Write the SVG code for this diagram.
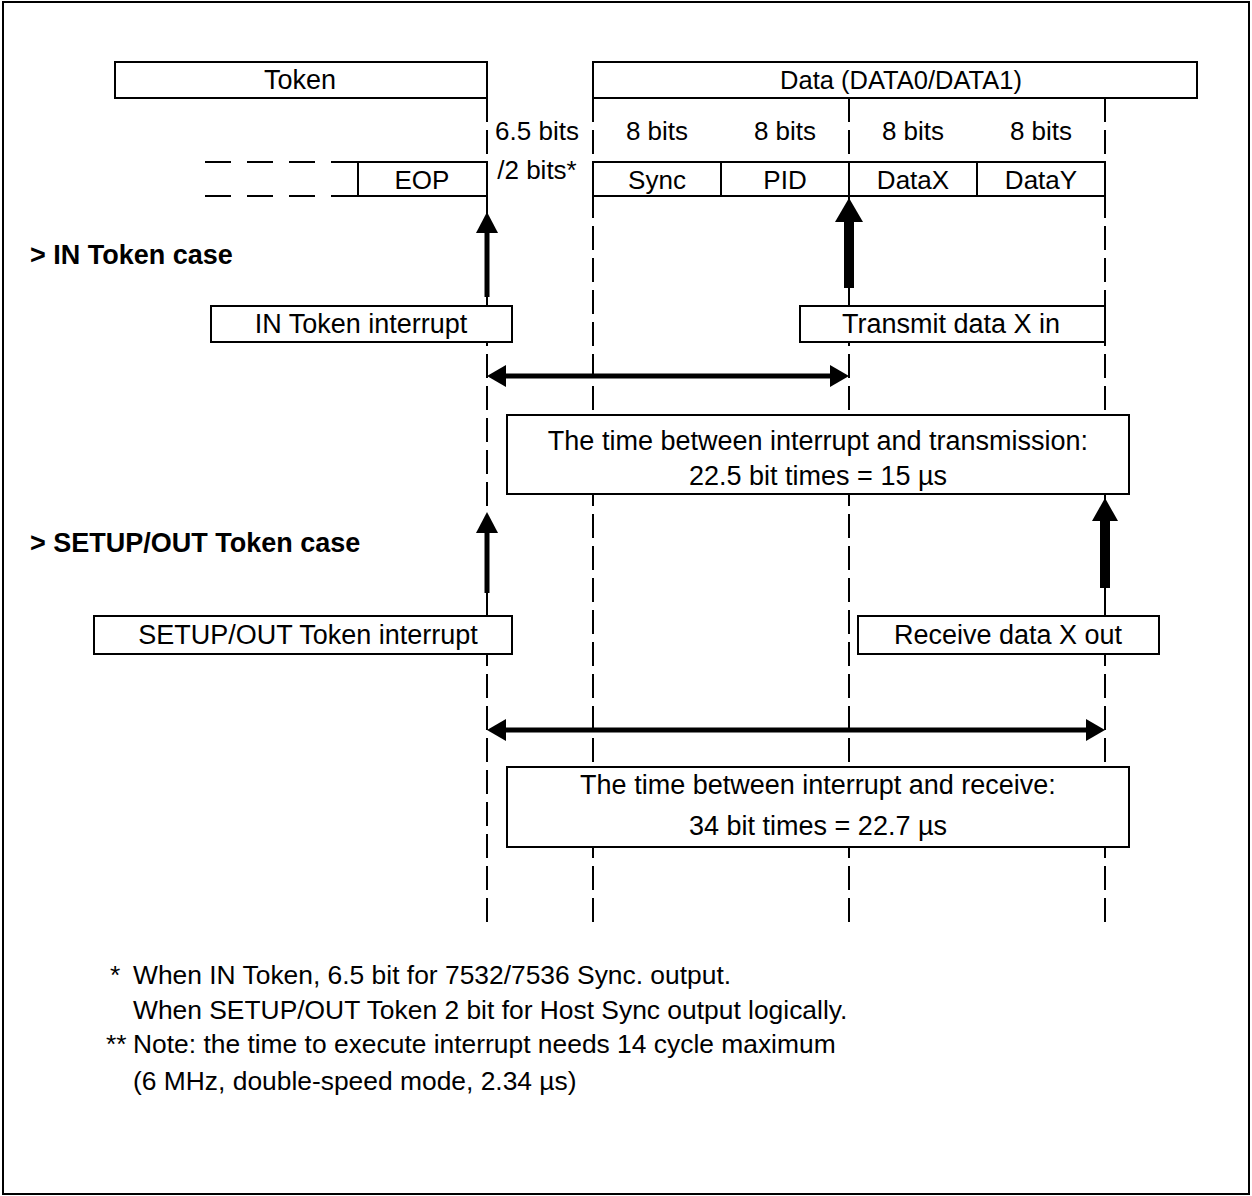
<svg xmlns="http://www.w3.org/2000/svg" width="1252" height="1196" viewBox="0 0 1252 1196">
<style>
  .box { fill: #fff; stroke: #000; stroke-width: 2; }
  .t { font-family: "Liberation Sans", Arial, sans-serif; font-size: 27px; fill: #000; }
  .s { font-size: 26px; }
  .d { font-size: 25.5px; }
  .n { font-size: 26.4px; }
  .c { text-anchor: middle; }
  .b { font-weight: bold; }
  .dash { stroke: #000; stroke-width: 2; stroke-dasharray: 24 8; fill: none; }
  .hdash { stroke: #000; stroke-width: 2; stroke-dasharray: 26 16; fill: none; }
  .thin { stroke: #000; stroke-width: 2; fill: none; }
  .head { fill: #000; stroke: none; }
</style>
<rect x="3" y="2" width="1246" height="1192" fill="#fff" stroke="#000" stroke-width="2"/>

<g id="guides">
  <line class="dash" x1="487" y1="98" x2="487" y2="922"/>
  <line class="dash" x1="593" y1="98" x2="593" y2="922"/>
  <line class="dash" x1="849" y1="98" x2="849" y2="922"/>
  <line class="dash" x1="1105" y1="98" x2="1105" y2="922"/>
  <line class="hdash" x1="205" y1="162" x2="358" y2="162"/>
  <line class="hdash" x1="205" y1="196" x2="358" y2="196"/>
</g>

<g id="token">
  <rect class="box" x="115" y="62" width="372" height="36"/>
  <text class="t c" x="300" y="89">Token</text>
</g>
<g id="data">
  <rect class="box" x="593" y="62" width="604" height="36"/>
  <text class="t d c" x="901" y="89">Data (DATA0/DATA1)</text>
</g>
<g id="gap-label">
  <text class="t s c" x="537" y="140">6.5 bits</text>
  <text class="t s c" x="537" y="179">/2 bits*</text>
</g>
<g id="bit-labels">
  <text class="t s c" x="657" y="140">8 bits</text>
  <text class="t s c" x="785" y="140">8 bits</text>
  <text class="t s c" x="913" y="140">8 bits</text>
  <text class="t s c" x="1041" y="140">8 bits</text>
</g>
<g id="eop">
  <rect class="box" x="358" y="162" width="129" height="34"/>
  <text class="t s c" x="422" y="189">EOP</text>
</g>
<g id="sync">
  <rect class="box" x="593" y="162" width="128" height="34"/>
  <text class="t s c" x="657" y="189">Sync</text>
</g>
<g id="pid">
  <rect class="box" x="721" y="162" width="128" height="34"/>
  <text class="t s c" x="785" y="189">PID</text>
</g>
<g id="datax">
  <rect class="box" x="849" y="162" width="128" height="34"/>
  <text class="t s c" x="913" y="189">DataX</text>
</g>
<g id="datay">
  <rect class="box" x="977" y="162" width="128" height="34"/>
  <text class="t s c" x="1041" y="189">DataY</text>
</g>

<g id="in-case-label">
  <text class="t b" x="30" y="264">&gt; IN Token case</text>
</g>
<g id="in-token-interrupt">
  <rect class="box" x="211" y="306" width="301" height="36"/>
  <text class="t c" x="361" y="333">IN Token interrupt</text>
</g>
<g id="transmit">
  <rect class="box" x="800" y="306" width="305" height="36"/>
  <text class="t c" x="951" y="333">Transmit data X in</text>
</g>
<g id="time-box-1">
  <rect class="box" x="507" y="415" width="622" height="79"/>
  <text class="t c" x="818" y="450">The time between interrupt and transmission:</text>
  <text class="t c" x="818" y="485">22.5 bit times = 15 µs</text>
</g>

<g id="setup-case-label">
  <text class="t b" x="30" y="552">&gt; SETUP/OUT Token case</text>
</g>
<g id="setup-interrupt">
  <rect class="box" x="94" y="616" width="418" height="38"/>
  <text class="t c" x="308" y="644">SETUP/OUT Token interrupt</text>
</g>
<g id="receive">
  <rect class="box" x="858" y="616" width="301" height="38"/>
  <text class="t c" x="1008" y="644">Receive data X out</text>
</g>
<g id="time-box-2">
  <rect class="box" x="507" y="767" width="622" height="80"/>
  <text class="t c" x="818" y="794">The time between interrupt and receive:</text>
  <text class="t c" x="818" y="835">34 bit times = 22.7 µs</text>
</g>

<g id="connectors">
  <line class="thin" x1="487" y1="196" x2="487" y2="214"/>
  <line stroke="#000" stroke-width="5" x1="487" y1="230" x2="487" y2="297"/>
  <polygon class="head" points="487,212 476,233 498,233"/>
  <line class="thin" x1="849" y1="286" x2="849" y2="306"/>
  <line stroke="#000" stroke-width="10" x1="849" y1="220" x2="849" y2="288"/>
  <polygon class="head" points="849,198 835,222 863,222"/>
  <line stroke="#000" stroke-width="5" x1="503" y1="376" x2="833" y2="376"/>
  <polygon class="head" points="487,376 506,365 506,387"/>
  <polygon class="head" points="849,376 830,365 830,387"/>
  <line class="thin" x1="487" y1="590" x2="487" y2="616"/>
  <line stroke="#000" stroke-width="5" x1="487" y1="530" x2="487" y2="593"/>
  <polygon class="head" points="487,512 476,533 498,533"/>
  <line class="thin" x1="1105" y1="586" x2="1105" y2="616"/>
  <line stroke="#000" stroke-width="10" x1="1105" y1="519" x2="1105" y2="588"/>
  <polygon class="head" points="1105,498 1092,521 1118,521"/>
  <line stroke="#000" stroke-width="5" x1="503" y1="730" x2="1089" y2="730"/>
  <polygon class="head" points="487,730 506,719 506,741"/>
  <polygon class="head" points="1105,730 1086,719 1086,741"/>
</g>

<g id="notes">
  <text class="t n" x="110" y="984">*</text>
  <text class="t n" x="133" y="984">When IN Token, 6.5 bit for 7532/7536 Sync. output.</text>
  <text class="t n" x="133" y="1019">When SETUP/OUT Token 2 bit for Host Sync output logically.</text>
  <text class="t n" x="106" y="1053">**</text>
  <text class="t n" x="133" y="1053">Note: the time to execute interrupt needs 14 cycle maximum</text>
  <text class="t n" x="133" y="1090">(6 MHz, double-speed mode, 2.34 µs)</text>
</g>
</svg>
